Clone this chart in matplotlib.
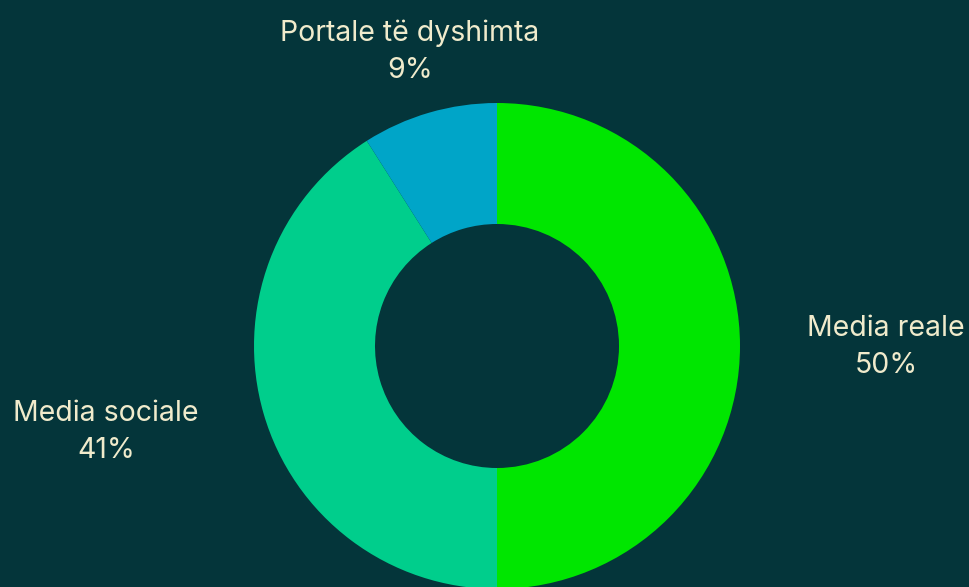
import matplotlib.pyplot as plt

labels = ['Media reale', 'Media sociale', 'Portale të dyshimta']
values = [50, 41, 9]
colors = ['#00e600', '#00ce8c', '#00a5c8']

bg = '#04353a'
txt = '#f0ebcc'

fig = plt.figure(figsize=(9.7, 5.87), dpi=100, facecolor=bg)
ax = fig.add_axes([0, 0, 1, 1])
ax.set_facecolor(bg)

ax.pie(values, colors=colors, startangle=90, counterclock=False,
       center=(497, 241), radius=243,
       wedgeprops=dict(width=121, linewidth=0))

ax.set_xlim(0, 970)
ax.set_ylim(0, 587)
ax.set_aspect('equal')
ax.axis('off')

# label positions (pixel coords, y from bottom)
label_pos = [(886, 240), (106, 155), (410, 535)]
for lab, val, (x, y) in zip(labels, values, label_pos):
    ax.text(x, y, f'{lab}\n{val}%', ha='center', va='center',
            fontsize=20.5, color=txt, family='Inter', fontweight='normal',
            linespacing=1.48)

fig.savefig('out.png', dpi=100, facecolor=bg)
